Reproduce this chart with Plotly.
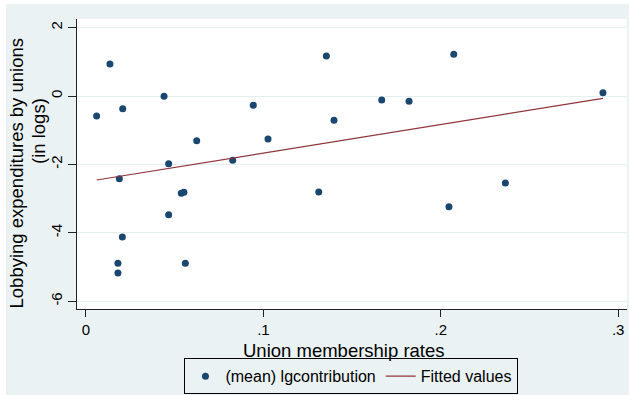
import plotly.graph_objects as go

# Union membership rate vs. mean log lobbying contribution, one point per industry
union_rate = [0.0060, 0.0135, 0.0207, 0.0440, 0.0624, 0.0466, 0.0827, 0.0943,
              0.0188, 0.0537, 0.0552, 0.0466, 0.0205, 0.0180, 0.0180, 0.0560,
              0.1355, 0.1667, 0.1821, 0.1398, 0.1026, 0.1312, 0.2073, 0.2914,
              0.2364, 0.2046]
lg_contribution = [-0.585, 0.936, -0.371, -0.009, -1.307, -1.980, -1.880, -0.272,
                   -2.421, -2.845, -2.816, -3.471, -4.123, -4.892, -5.175, -4.892,
                   1.170, -0.117, -0.155, -0.711, -1.257, -2.807, 1.219, 0.096,
                   -2.544, -3.237]

# Linear fit endpoints
fit_x = [0.0060, 0.2914]
fit_y = [-2.456, -0.068]

y_ticks = [-6, -4, -2, 0, 2]
y_tick_text = ["-6", "-4", "-2", "0", "2"]
x_ticks = [0, 0.1, 0.2, 0.3]
x_tick_text = ["0", ".1", ".2", ".3"]

NAVY = "#1A476F"
MAROON = "#90353B"
REGION = "#EAF2F3"
FONT = "Liberation Sans, Arial, sans-serif"

fig = go.Figure()
fig.add_trace(go.Scatter(
    x=union_rate, y=lg_contribution, mode="markers",
    name="(mean) lgcontribution",
    marker=dict(color=NAVY, size=7, line=dict(width=0)),
))
fig.add_trace(go.Scatter(
    x=fit_x, y=fit_y, mode="lines", name="Fitted values",
    line=dict(color=MAROON, width=1.2),
))

axis_common = dict(
    showline=True, linecolor="#222222", linewidth=1,
    ticks="outside", tickcolor="#222222", tickwidth=1,
    tickfont=dict(family=FONT, size=15, color="black"),
    zeroline=False, mirror=False, automargin=False,
)

fig.update_xaxes(
    range=[-0.00507, 0.30496], tickvals=x_ticks, ticktext=x_tick_text,
    showgrid=False, ticklen=7, **axis_common,
)
fig.update_yaxes(
    range=[-6.228, 2.2515], tickvals=y_ticks, ticktext=y_tick_text,
    tickangle=-90, ticklen=8,
    showgrid=True, gridcolor="#E6EEEF", gridwidth=1, **axis_common,
)

fig.update_layout(
    width=629, height=395,
    margin=dict(l=77, r=2, t=19, b=86, autoexpand=False),
    paper_bgcolor=REGION, plot_bgcolor="white",
    font=dict(family=FONT, color="black"),
    showlegend=True,
    legend=dict(
        orientation="h", x=0.499, xanchor="center",
        yref="container", y=0.0473, yanchor="middle",
        bgcolor=REGION, bordercolor="black", borderwidth=1,
        font=dict(family=FONT, size=16, color="black"),
        itemwidth=30, tracegroupgap=0,
    ),
    annotations=[
        dict(text="Union membership rates", xref="paper", yref="paper",
             x=0.4855, y=-0.1448, xanchor="center", yanchor="middle",
             showarrow=False, font=dict(family=FONT, size=18.5, color="black")),
        dict(text="Lobbying expenditures by unions", xref="paper", yref="paper",
             x=-0.1082, y=0.469, xanchor="center", yanchor="middle", textangle=-90,
             showarrow=False, font=dict(family=FONT, size=18.5, color="black")),
        dict(text="(in logs)", xref="paper", yref="paper",
             x=-0.0691, y=0.6138, xanchor="center", yanchor="middle", textangle=-90,
             showarrow=False, font=dict(family=FONT, size=18.5, color="black")),
    ],
    shapes=[
        # thin white border outside the graph region (left and top)
        dict(type="rect", xref="paper", yref="paper", x0=-0.2, x1=-0.1291,
             y0=-0.4, y1=1.2, fillcolor="white", line=dict(width=0), layer="below"),
        dict(type="rect", xref="paper", yref="paper", x0=-0.2, x1=1.1,
             y0=1.0517, y1=1.2, fillcolor="white", line=dict(width=0), layer="below"),
    ],
)

fig.write_html("out.html")
